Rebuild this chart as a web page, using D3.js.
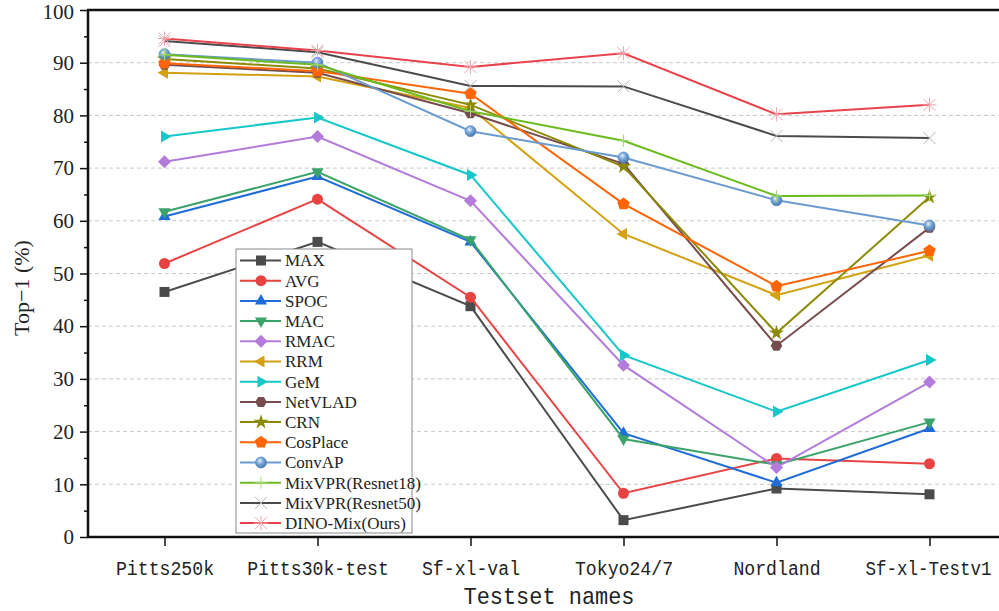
<!DOCTYPE html>
<html>
<head>
<meta charset="utf-8">
<script src="https://cdn.jsdelivr.net/npm/d3@7"></script>
<style>
  body { margin: 0; background: #fff; }
  svg { display: block; }
</style>
</head>
<body>
<div id="area"></div>
<script>
let width = 999
let height = 611

let testsets = ['Pitts250k', 'Pitts30k-test', 'Sf-xl-val', 'Tokyo24/7', 'Nordland', 'Sf-xl-Testv1']
let yTicks = [0, 10, 20, 30, 40, 50, 60, 70, 80, 90, 100]

// Top-1 values
let maxVals      = [46.5, 56.0, 43.8, 3.2, 9.2, 8.1]
let avgVals      = [51.9, 64.1, 45.5, 8.3, 14.9, 13.9]
let spocVals     = [60.8, 68.4, 56.0, 19.7, 10.3, 20.6]
let macVals      = [61.7, 69.3, 56.4, 18.6, 13.7, 21.8]
let rmacVals     = [71.2, 76.0, 63.8, 32.6, 13.2, 29.4]
let rrmVals      = [88.1, 87.4, 81.4, 57.5, 45.9, 53.4]
let gemVals      = [76.0, 79.6, 68.7, 34.5, 23.8, 33.6]
let netvladVals  = [89.6, 88.1, 80.4, 70.8, 36.3, 58.7]
let crnVals      = [90.7, 88.9, 82.0, 70.3, 38.7, 64.5]
let cosplaceVals = [89.9, 88.4, 84.1, 63.2, 47.6, 54.3]
let convapVals   = [91.6, 90.0, 77.0, 72.0, 63.9, 59.1]
let mix18Vals    = [91.5, 89.6, 80.8, 75.2, 64.7, 64.8]
let mix50Vals    = [94.1, 92.0, 85.6, 85.5, 76.1, 75.7]
let dinoVals     = [94.6, 92.3, 89.2, 91.8, 80.2, 82.0]

let series = [
  {name: 'MAX', values: maxVals, color: '#4b4b4b', fill: '#4b4b4b', shape: 'square'},
  {name: 'AVG', values: avgVals, color: '#e84343', fill: '#e84343', shape: 'circle'},
  {name: 'SPOC', values: spocVals, color: '#1f6dd8', fill: '#1f6dd8', shape: 'triUp'},
  {name: 'MAC', values: macVals, color: '#3ba36a', fill: '#3ba36a', shape: 'triDown'},
  {name: 'RMAC', values: rmacVals, color: '#b27bdc', fill: '#b27bdc', shape: 'diamond'},
  {name: 'RRM', values: rrmVals, color: '#d3a112', fill: '#d3a112', shape: 'triLeft'},
  {name: 'GeM', values: gemVals, color: '#17c7c9', fill: '#17c7c9', shape: 'triRight'},
  {name: 'NetVLAD', values: netvladVals, color: '#764c4c', fill: '#764c4c', shape: 'hexagon'},
  {name: 'CRN', values: crnVals, color: '#8c8a06', fill: '#8c8a06', shape: 'star'},
  {name: 'CosPlace', values: cosplaceVals, color: '#ff6505', fill: '#ff6505', shape: 'pentagon'},
  {name: 'ConvAP', values: convapVals, color: '#6a9bd0', fill: 'url(#ball)', shape: 'ball'},
  {name: 'MixVPR(Resnet18)', values: mix18Vals, color: '#6bbb1e', fill: '#a7d97a', shape: 'plus'},
  {name: 'MixVPR(Resnet50)', values: mix50Vals, color: '#4b4b4b', fill: '#b4b4b4', shape: 'cross'},
  {name: 'DINO-Mix(Ours)', values: dinoVals, color: '#e8434b', fill: '#f4a6ae', shape: 'asterisk'}
]

let serif = '"Liberation Serif", "Times New Roman", "DejaVu Serif", serif'
let mono = '"Liberation Mono", "Courier New", "DejaVu Sans Mono", monospace'

let plot = {left: 88, top: 10, bottom: 537, right: 1006}

let svg = d3.select('#area').append('svg')
svg.attr('width', width).attr('height', height)

let defs = svg.append('defs')
let grad = defs.append('radialGradient').attr('id', 'ball')
  .attr('cx', '40%').attr('cy', '35%').attr('r', '65%')
grad.append('stop').attr('offset', '0%').attr('stop-color', '#e8f1fb')
grad.append('stop').attr('offset', '45%').attr('stop-color', '#7aa8d8')
grad.append('stop').attr('offset', '100%').attr('stop-color', '#4a78ad')

let x = d3.scalePoint().domain(testsets).range([plot.left, plot.right]).padding(0.5)
let y = d3.scaleLinear().domain([0, 100]).range([plot.bottom, plot.top])

// grid
svg.append('g')
  .selectAll('line')
  .data(yTicks.filter(d => d > 0 && d < 100))
  .join('line')
  .attr('x1', plot.left).attr('x2', width)
  .attr('y1', d => y(d)).attr('y2', d => y(d))
  .attr('stroke', '#c8c8c8').attr('stroke-width', 1)
  .attr('stroke-dasharray', '4,3')

// axes
let yAxis = svg.append('g')
  .attr('transform', 'translate(' + plot.left + ',0)')
  .call(d3.axisLeft(y).tickValues(yTicks).tickSize(8).tickPadding(6))
yAxis.select('.domain').remove()
yAxis.selectAll('.tick line').attr('stroke', '#111').attr('stroke-width', 1.5)
yAxis.selectAll('.tick text')
  .style('font-family', serif).style('font-size', '21px').attr('fill', '#222')
  .attr('dy', d => d == 100 ? '0.42em' : '0.32em')

let yMinor = svg.append('g')
  .attr('transform', 'translate(' + plot.left + ',0)')
  .call(d3.axisLeft(y).tickValues(d3.range(5, 100, 10)).tickSize(4).tickFormat(''))
yMinor.select('.domain').remove()
yMinor.selectAll('.tick line').attr('stroke', '#111').attr('stroke-width', 1.5)

let xAxis = svg.append('g')
  .attr('transform', 'translate(0,' + plot.bottom + ')')
  .call(d3.axisBottom(x).tickSize(9).tickPadding(10))
xAxis.select('.domain').remove()
xAxis.selectAll('.tick line').attr('stroke', '#111').attr('stroke-width', 1.5)
xAxis.selectAll('.tick text')
  .style('font-family', mono)
  .style('font-size', '20px')
  .attr('fill', '#222')
  .attr('dy', '0.95em')
  .attr('textLength', d => d.length * 10.9)
  .attr('lengthAdjust', 'spacingAndGlyphs')
// last label is squeezed a little to stay inside the picture
let lastSet = testsets[testsets.length - 1]
xAxis.selectAll('.tick text')
  .filter(d => d == lastSet)
  .attr('text-anchor', 'end')
  .attr('x', 991 - x(lastSet))
  .attr('textLength', lastSet.length * 10.5)

// frame: left, bottom, top
svg.append('line').attr('x1', plot.left).attr('x2', plot.left)
  .attr('y1', plot.top).attr('y2', plot.bottom)
  .attr('stroke', '#111').attr('stroke-width', 2.5)
svg.append('line').attr('x1', plot.left - 1).attr('x2', width)
  .attr('y1', plot.bottom).attr('y2', plot.bottom)
  .attr('stroke', '#111').attr('stroke-width', 2.5)
svg.append('line').attr('x1', plot.left - 1).attr('x2', width)
  .attr('y1', plot.top).attr('y2', plot.top)
  .attr('stroke', '#111').attr('stroke-width', 2.5)

// axis titles
svg.append('text')
  .attr('x', 549).attr('y', 604)
  .attr('text-anchor', 'middle')
  .style('font-family', mono)
  .style('font-size', '24px')
  .attr('fill', '#222')
  .attr('textLength', 171).attr('lengthAdjust', 'spacingAndGlyphs')
  .text('Testset names')

svg.append('text')
  .attr('transform', 'translate(29,288) rotate(-90)')
  .attr('text-anchor', 'middle')
  .style('font-family', serif)
  .style('font-size', '22px')
  .attr('fill', '#222')
  .text('Top\u22121 (%)')

// marker shapes
function polygon(n, r, rot) {
  let pts = d3.range(n).map(function(i) {
    let a = rot + i * 2 * Math.PI / n
    return [r * Math.cos(a), r * Math.sin(a)]
  })
  return 'M' + pts.map(p => p.join(',')).join('L') + 'Z'
}

function drawMarker(g, s) {
  let shape = s.shape
  if (shape == 'square') {
    g.append('rect').attr('x', -5).attr('y', -5).attr('width', 10).attr('height', 10).attr('fill', s.fill)
  } else if (shape == 'circle') {
    g.append('circle').attr('r', 5.5).attr('fill', s.fill)
  } else if (shape == 'ball') {
    g.append('circle').attr('r', 5.5).attr('fill', s.fill).attr('stroke', '#5d8cc0').attr('stroke-width', 0.8)
  } else if (shape == 'triUp') {
    g.append('path').attr('d', polygon(3, 7, -Math.PI / 2)).attr('fill', s.fill)
  } else if (shape == 'triDown') {
    g.append('path').attr('d', polygon(3, 7, Math.PI / 2)).attr('fill', s.fill)
  } else if (shape == 'triLeft') {
    g.append('path').attr('d', polygon(3, 7, Math.PI)).attr('fill', s.fill)
  } else if (shape == 'triRight') {
    g.append('path').attr('d', polygon(3, 7, 0)).attr('fill', s.fill)
  } else if (shape == 'diamond') {
    g.append('path').attr('d', polygon(4, 6.5, 0)).attr('fill', s.fill)
  } else if (shape == 'hexagon') {
    g.append('path').attr('d', polygon(6, 5.8, 0)).attr('fill', s.fill)
  } else if (shape == 'pentagon') {
    g.append('path').attr('d', polygon(5, 6.5, -Math.PI / 2)).attr('fill', s.fill)
  } else if (shape == 'star') {
    g.append('path').attr('d', d3.symbol().type(d3.symbolStar).size(70)()).attr('fill', s.fill)
  } else if (shape == 'plus') {
    g.append('path').attr('d', 'M-6,0L6,0M0,-6L0,6').attr('stroke', s.fill).attr('stroke-width', 1)
  } else if (shape == 'cross') {
    g.append('path').attr('d', 'M-6,-6L6,6M-6,6L6,-6').attr('stroke', s.fill).attr('stroke-width', 1)
  } else if (shape == 'asterisk') {
    g.append('path').attr('d', 'M-6,-6L6,6M-6,6L6,-6M0,-7L0,7M-7,0L7,0').attr('stroke', s.fill).attr('stroke-width', 1)
  }
}

let line = d3.line().x((d, i) => x(testsets[i])).y(d => y(d))

let seriesG = svg.append('g')
series.forEach(function(s) {
  let g = seriesG.append('g')
  g.append('path')
    .datum(s.values)
    .attr('d', line)
    .attr('fill', 'none')
    .attr('stroke', s.color)
    .attr('stroke-width', 2)
  s.values.forEach(function(v, i) {
    let m = g.append('g').attr('transform', 'translate(' + x(testsets[i]) + ',' + y(v) + ')')
    drawMarker(m, s)
  })
})

// legend
let legend = svg.append('g').attr('transform', 'translate(236,249)')
legend.append('rect')
  .attr('x', 0).attr('y', 0).attr('width', 176).attr('height', 284)
  .attr('fill', '#fff').attr('stroke', '#8a8a8a').attr('stroke-width', 1)

series.forEach(function(s, i) {
  let row = legend.append('g').attr('transform', 'translate(0,' + (11.5 + i * 20.2) + ')')
  row.append('line').attr('x1', 4).attr('x2', 45).attr('y1', 0).attr('y2', 0)
    .attr('stroke', s.color).attr('stroke-width', 2)
  let m = row.append('g').attr('transform', 'translate(25,0)')
  drawMarker(m, s)
  row.append('text')
    .attr('x', 49).attr('y', 0).attr('dy', '0.35em')
    .style('font-family', serif)
    .style('font-size', '17px')
    .attr('fill', '#222')
    .text(s.name)
})
</script>
</body>
</html>
